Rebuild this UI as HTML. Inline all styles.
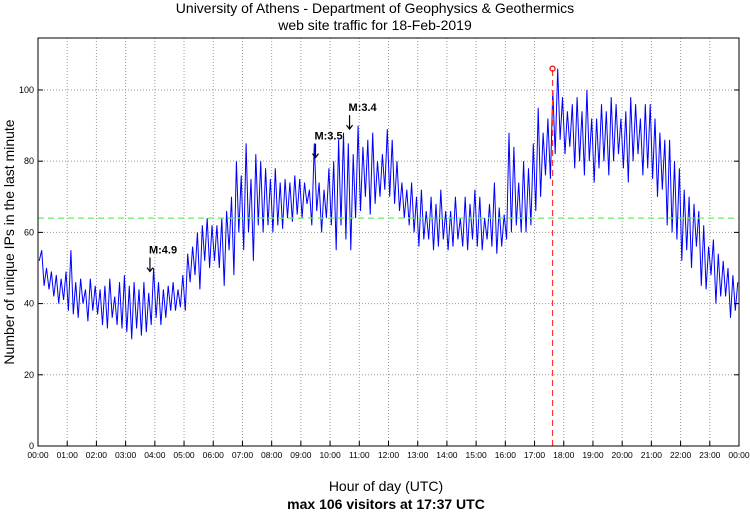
<!DOCTYPE html>
<html><head><meta charset="utf-8"><style>
body{margin:0;background:#fff;}
svg text{font-family:"Liberation Sans",sans-serif;}
</style></head><body>
<svg id="chart" width="750" height="511" xmlns="http://www.w3.org/2000/svg">
<rect width="750" height="511" fill="#fff"/>
<text x="375" y="13" font-size="14" text-anchor="middle">University of Athens - Department of Geophysics &amp; Geothermics</text>
<text x="375" y="30" font-size="14" text-anchor="middle">web site traffic for 18-Feb-2019</text>
<text transform="translate(14,242) rotate(-90)" font-size="14" text-anchor="middle">Number of unique IPs in the last minute</text>
<text x="386" y="491" font-size="14" text-anchor="middle">Hour of day (UTC)</text>
<text x="386" y="509" font-size="14" font-weight="bold" text-anchor="middle">max 106 visitors at 17:37 UTC</text>
<g id="grid"></g><g id="series"></g><g id="overlay"></g><g id="axes"></g>
</svg>
<script>
const yTicks=[0,20,40,60,80,100];
const xTickLabels=["00:00","01:00","02:00","03:00","04:00","05:00","06:00","07:00","08:00","09:00","10:00","11:00","12:00","13:00","14:00","15:00","16:00","17:00","18:00","19:00","20:00","21:00","22:00","23:00","00:00"];
const visitors=[52,55,45,50,44,49,42,48,40,47,41,49,
38,55,37,46,36,47,40,44,35,47,38,45,
37,44,34,45,33,47,36,42,34,46,33,48,
32,45,30,46,33,44,31,46,32,43,34,50,
36,46,34,44,36,45,38,46,38,44,39,48,
38,54,46,56,48,60,44,62,52,64,50,62,
52,62,50,64,45,66,55,70,48,80,60,76,
55,85,60,75,52,82,62,80,60,78,62,75,
60,78,62,74,61,75,64,74,63,76,65,75,
64,74,68,72,62,85,66,74,60,72,64,78,
62,80,55,86,62,88,58,85,55,82,64,90,
66,84,70,86,65,88,68,80,70,82,72,89,
70,86,68,80,66,74,64,72,62,74,60,70,
56,72,58,66,58,70,55,68,56,72,58,66,
55,66,56,70,58,64,56,70,55,68,58,72,
56,70,55,64,58,68,56,74,54,67,56,65,
58,88,60,84,62,74,60,80,60,78,62,85,
66,95,70,88,76,92,75,100,82,106,86,98,
82,94,84,96,78,98,80,94,76,100,80,92,
74,92,78,96,80,94,76,98,80,96,82,92,
78,94,74,98,80,96,82,92,76,96,78,96,
75,92,70,88,72,86,62,86,60,80,58,78,
52,72,55,70,50,68,56,66,45,62,44,56,
48,58,40,54,42,52,42,50,36,48,38,46];
const meanValue=[64];
const maxMinute=[1057];
const maxValue=[106];
const quakeLabels=["M:4.9","M:3.5","M:3.4"];
const quakeMinutes=[230,570,640];
const quakeValues=[49,81,89];

const L=38,R=739,T=38,B=446,YMAX=114.6;
const X=m=>L+(R-L)*m/1440;
const Y=v=>B-(B-T)*v/YMAX;
const NS="http://www.w3.org/2000/svg";
function mk(tag,attrs,parent){const e=document.createElementNS(NS,tag);for(const k in attrs)e.setAttribute(k,attrs[k]);parent.appendChild(e);return e;}
const grid=document.getElementById('grid'),axes=document.getElementById('axes'),ser=document.getElementById('series'),ov=document.getElementById('overlay');
yTicks.forEach(v=>{
  if(v>0){const g=mk('line',{x1:L,x2:R,y1:Y(v),y2:Y(v),stroke:'#999','stroke-dasharray':'1,2','stroke-width':1},grid);
  
  }
  mk('line',{x1:L,x2:L+5,y1:Y(v),y2:Y(v),stroke:'#000'},axes);
  mk('line',{x1:R,x2:R-5,y1:Y(v),y2:Y(v),stroke:'#000'},axes);
  const t=mk('text',{x:L-4,y:Y(v)+3,'font-size':9,'text-anchor':'end'},axes);t.textContent=v;
  
  
});
xTickLabels.forEach((lab,i)=>{
  const x=X(i*60);
  if(i>0&&i<24){const g=mk('line',{x1:x,x2:x,y1:T,y2:B,stroke:'#999','stroke-dasharray':'1,2'},grid);
  
  }
  mk('line',{x1:x,x2:x,y1:B,y2:B-5,stroke:'#000'},axes);
  const t=mk('text',{x:x,y:B+12,'font-size':8.5,'text-anchor':'middle'},axes);t.textContent=lab;
  
  
});
const frame=mk('rect',{x:L,y:T,width:R-L,height:B-T,fill:'none',stroke:'#000'},axes);


const n=visitors.length;
const pts=visitors.map((v,i)=>X((i+0.5)*1440/n).toFixed(1)+','+Y(v).toFixed(1)).join(' ');
const pl=mk('polyline',{points:pts,fill:'none',stroke:'#0000ff','stroke-width':1},ser);


const ml=mk('line',{x1:L,x2:R,y1:Y(meanValue[0]),y2:Y(meanValue[0]),stroke:'#66ee66','stroke-dasharray':'6,4','stroke-width':1.2},ov);


const rl=mk('line',{x1:X(maxMinute[0]),x2:X(maxMinute[0]),y1:B,y2:Y(maxValue[0]),stroke:'#ff3333','stroke-dasharray':'6,4','stroke-width':1.2},ov);


const mc=mk('circle',{cx:X(maxMinute[0]),cy:Y(maxValue[0]),r:2.5,fill:'none',stroke:'#ff0000','stroke-width':1.2},ov);


quakeLabels.forEach((lab,i)=>{
  const x=X(quakeMinutes[i]),y=Y(quakeValues[i]);
  const a=mk('path',{d:`M${x},${y-14}V${y} M${x-3},${y-4}L${x},${y}L${x+3},${y-4}`,fill:'none',stroke:'#000','stroke-width':1.2},ov);
  
  
  const t=mk('text',{x:x-1,y:y-18,'font-size':11,'font-weight':'bold'},ov);t.textContent=lab;
  
  
});
</script>
</body></html>
